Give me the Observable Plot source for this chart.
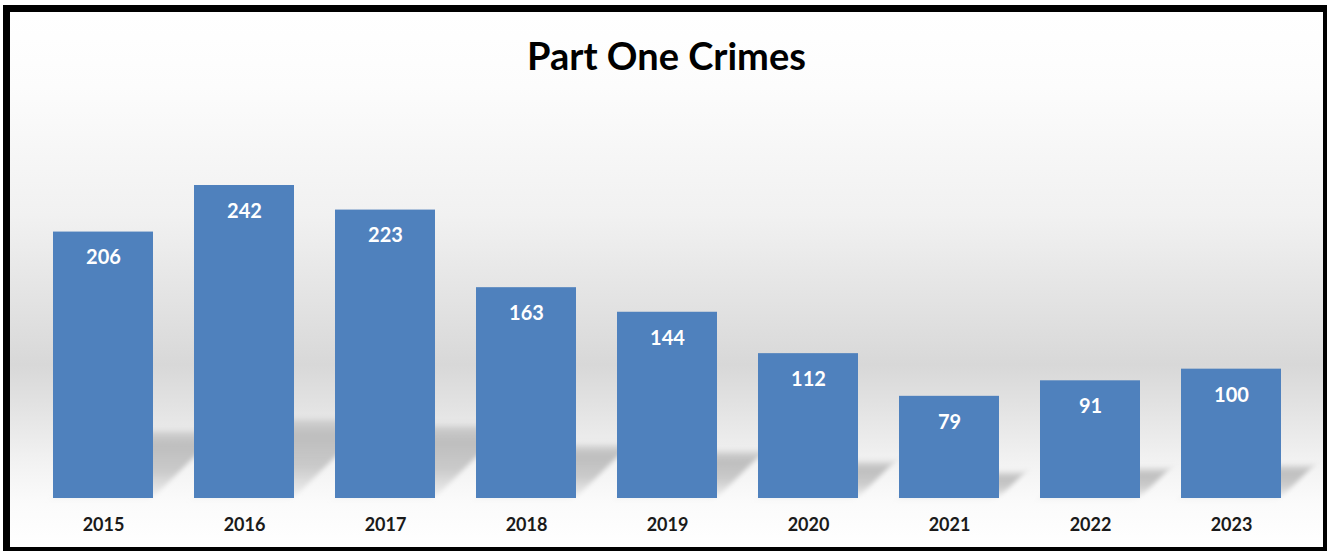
<!DOCTYPE html>
<html>
<head>
<meta charset="utf-8">
<script src="https://cdn.jsdelivr.net/npm/d3@7"></script>
<script src="https://cdn.jsdelivr.net/npm/@observablehq/plot@0.6"></script>
<style>
  html, body { margin: 0; padding: 0; background: #fff; }
  #frame {
    position: absolute; left: 3px; top: 5px;
    width: 1324px; height: 546px; box-sizing: border-box;
    border-style: solid; border-color: #000;
    border-width: 7px 4px 4px 7px;
    background: linear-gradient(to bottom, #ffffff 0%, #fcfcfc 14%, #f1f1f1 38%, #e2e2e2 55%, #d8d8d8 66%, #e3e3e3 74%, #f2f2f2 84%, #fbfbfb 92%, #ffffff 100%);
    overflow: hidden;
    font-family: Lato, "Open Sans", sans-serif;
  }
  #title {
    position: absolute; left: 0; right: 0; top: 21px;
    text-align: center; font-weight: bold; font-size: 38px; color: #000;
    line-height: 44px;
  }
  #chart { position: absolute; left: 0; top: 88px; }
</style>
</head>
<body>
<div id="frame">
  <div id="title">Part One Crimes</div>
  <div id="chart"></div>
</div>
<script>
const years = ["2015", "2016", "2017", "2018", "2019", "2020", "2021", "2022", "2023"];
const crimes = [206, 242, 223, 163, 144, 112, 79, 91, 100];
const yMax = 300;

const data = years.map((year, i) => ({year, value: crimes[i]}));

const plot = Plot.plot({
  width: 1313,
  height: 438,
  marginLeft: 2,
  marginRight: 1,
  marginTop: 10,
  marginBottom: 40,
  style: {background: "transparent", fontFamily: "Lato, 'Open Sans', sans-serif", fontSize: "18px", fontWeight: "bold", color: "#1a1a1a", overflow: "visible"},
  x: {domain: years, padding: 0.29, label: null, tickSize: 0, tickPadding: 20},
  y: {domain: [0, yMax], axis: null},
  marks: [
    Plot.barY(data, {x: "year", y: d => d.value * 0.25, fill: "url(#shadowGrad)"}),
    Plot.barY(data, {x: "year", y: "value", fill: "#4F81BD"}),
    Plot.text(data, {x: "year", y: "value", text: d => String(d.value), dy: 26, fill: "white", fontSize: 20, fontWeight: "bold"})
  ]
});

// soft floor shadow behind bars
const svg = d3.select(plot);
const defs = svg.insert("defs", ":first-child");
const grad = defs.append("linearGradient").attr("id", "shadowGrad").attr("x1", 0).attr("y1", 0).attr("x2", 0).attr("y2", 1);
grad.append("stop").attr("offset", "0%").attr("stop-color", "#b8b8b8").attr("stop-opacity", 0.5);
grad.append("stop").attr("offset", "20%").attr("stop-color", "#b8b8b8").attr("stop-opacity", 0.9);
grad.append("stop").attr("offset", "60%").attr("stop-color", "#bcbcbc").attr("stop-opacity", 0.75);
grad.append("stop").attr("offset", "100%").attr("stop-color", "#c4c4c4").attr("stop-opacity", 0.15);
defs.append("filter").attr("id", "soft").attr("x", "-20%").attr("y", "-20%").attr("width", "140%").attr("height", "140%")
  .append("feGaussianBlur").attr("stdDeviation", 3);
const base = plot.scale("y").apply(0);
const shadowGroup = plot.querySelector('g[aria-label="bar"]');
if (shadowGroup) {
  const wrap = document.createElementNS("http://www.w3.org/2000/svg", "g");
  wrap.setAttribute("transform", `translate(0,${base}) skewX(-45) translate(0,${-base})`);
  wrap.setAttribute("filter", "url(#soft)");
  shadowGroup.parentNode.insertBefore(wrap, shadowGroup);
  wrap.appendChild(shadowGroup);
}

document.getElementById("chart").appendChild(plot);
</script>
</body>
</html>
